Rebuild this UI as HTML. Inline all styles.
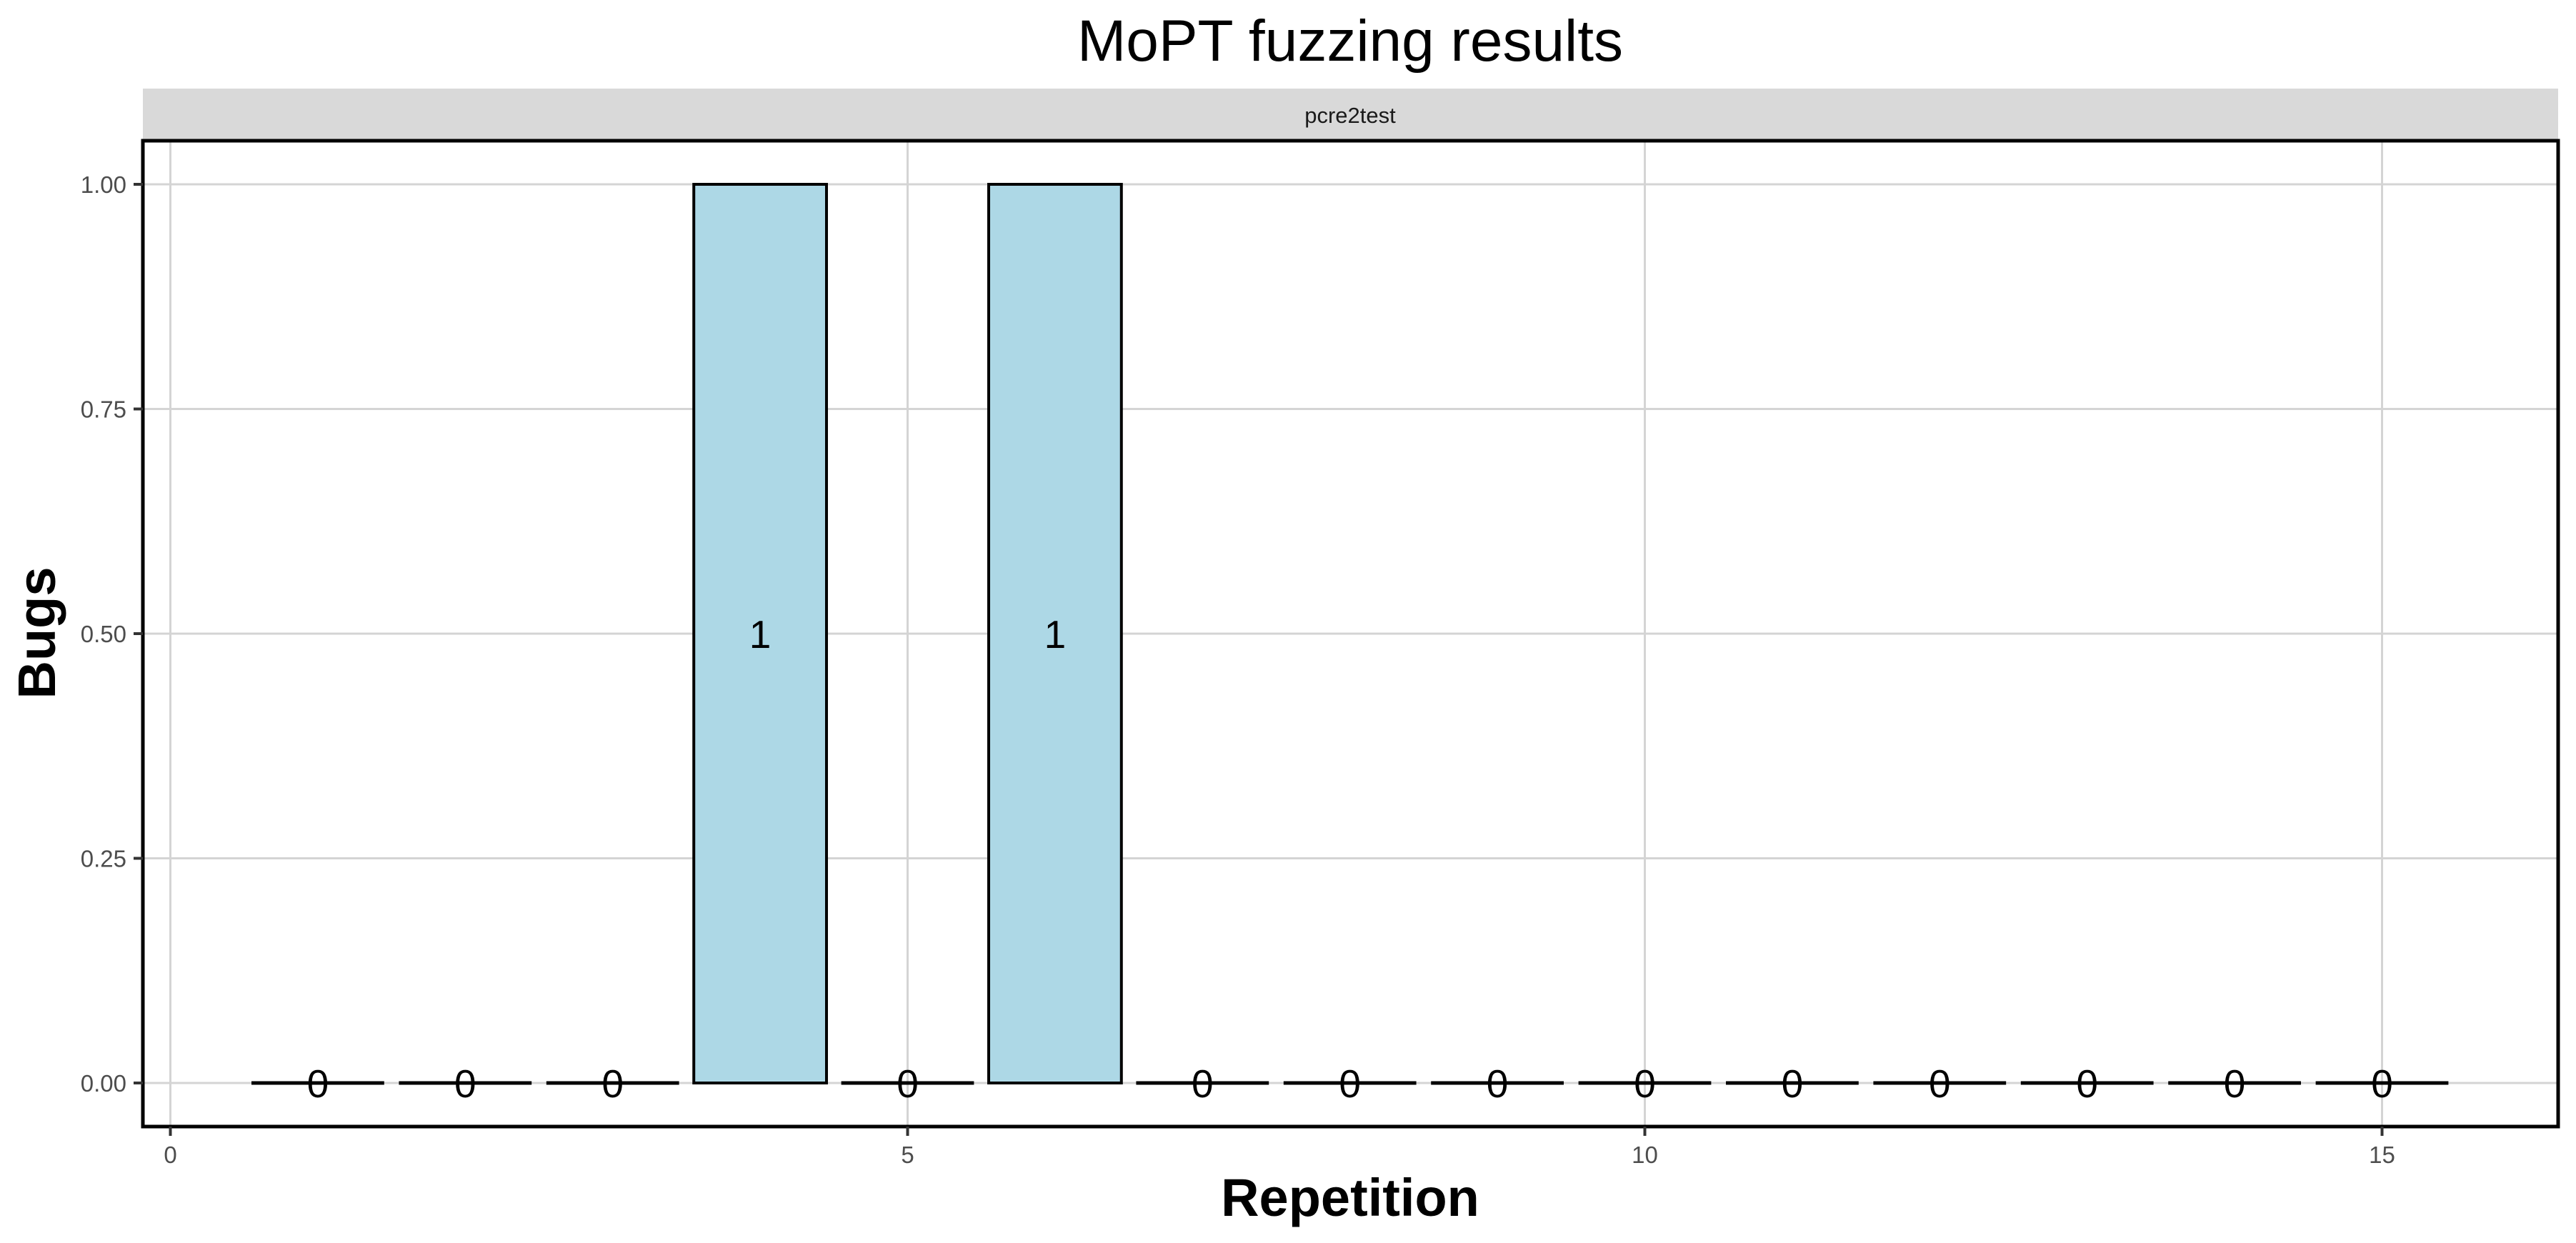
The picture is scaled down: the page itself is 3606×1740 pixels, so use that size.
<!DOCTYPE html>
<html><head><meta charset="utf-8"><style>
html,body{margin:0;padding:0;background:#fff;}
svg{display:block;font-family:"Liberation Sans",Arial,sans-serif;}
</style></head><body>
<svg id="chart" width="3606" height="1740" viewBox="0 0 3606 1740" xmlns="http://www.w3.org/2000/svg">
<rect width="3606" height="1740" fill="#fff"/>
<text x="1890" y="85" font-size="82" text-anchor="middle" fill="#000">MoPT fuzzing results</text>
<rect x="200" y="124" width="3381" height="73" fill="#d9d9d9"/>
<text x="1890" y="172" font-size="31" text-anchor="middle" fill="#1a1a1a">pcre2test</text>
<g id="grid"></g>
<g id="bars"></g>
<g id="labels"></g>
<rect x="200" y="197" width="3381" height="1380" fill="none" stroke="#000" stroke-width="5"/>
<g id="axes"></g>
<text x="1890" y="1702" font-size="74" font-weight="bold" text-anchor="middle" fill="#000">Repetition</text>
<text transform="translate(77,886) rotate(-90)" font-size="74" font-weight="bold" text-anchor="middle" fill="#000">Bugs</text>
</svg>
<script>
const repetitions = [1,2,3,4,5,6,7,8,9,10,11,12,13,14,15];
const bugs = [0,0,0,1,0,1,0,0,0,0,0,0,0,0,0];
const xTicks = [0,5,10,15];
const yTicks = [0,0.25,0.5,0.75,1];
const yTickLabels = ["0.00","0.25","0.50","0.75","1.00"];

const NS = "http://www.w3.org/2000/svg";
const X0 = 238.5, XU = 206.4;
const Y0 = 1516, Y1 = 258;
function xs(v){ return X0 + v*XU; }
function ys(v){ return Y0 + (Y1-Y0)*v; }
function mk(tag, attrs, parent){
  const e = document.createElementNS(NS, tag);
  for (const k in attrs) e.setAttribute(k, attrs[k]);
  parent.appendChild(e);
  return e;
}
const grid = document.getElementById('grid');
const bars = document.getElementById('bars');
const labels = document.getElementById('labels');
const axes = document.getElementById('axes');

yTicks.forEach((t,i)=>{
  const l = mk('line',{x1:200,x2:3581,y1:ys(t),y2:ys(t),stroke:'#d4d4d4','stroke-width':3},grid);
  
  
  const tk = mk('line',{x1:187,x2:200,y1:ys(t),y2:ys(t),stroke:'#333','stroke-width':4},axes);
  
  
  const tx = mk('text',{x:177,y:ys(t)+12,'font-size':33,'text-anchor':'end',fill:'#4d4d4d'},axes);
  tx.textContent = yTickLabels[i];
  
  
});
xTicks.forEach(t=>{
  const l = mk('line',{x1:xs(t),x2:xs(t),y1:197,y2:1577,stroke:'#d4d4d4','stroke-width':3},grid);
  
  
  const tk = mk('line',{x1:xs(t),x2:xs(t),y1:1577,y2:1590,stroke:'#333','stroke-width':4},axes);
  
  
  const tx = mk('text',{x:xs(t),y:1628,'font-size':33,'text-anchor':'middle',fill:'#4d4d4d'},axes);
  tx.textContent = String(t);
  
  
});
repetitions.forEach((r,i)=>{
  const v = bugs[i];
  const x = xs(r-0.45), w = 0.9*XU;
  const top = ys(v), h = Math.max(0, Y0 - top);
  if (h > 0) {
    const b = mk('rect',{x:x,y:top,width:w,height:h,fill:'#add8e6',stroke:'#000','stroke-width':4},bars);
    
    
  } else {
    const b = mk('line',{x1:x,x2:x+w,y1:top,y2:top,stroke:'#000','stroke-width':5},bars);
    
    
  }
  const t = mk('text',{x:xs(r),y:ys(v/2)+20,'font-size':55,'text-anchor':'middle',fill:'#000'},labels);
  t.textContent = String(v);
  
  
});
</script>
</body></html>
